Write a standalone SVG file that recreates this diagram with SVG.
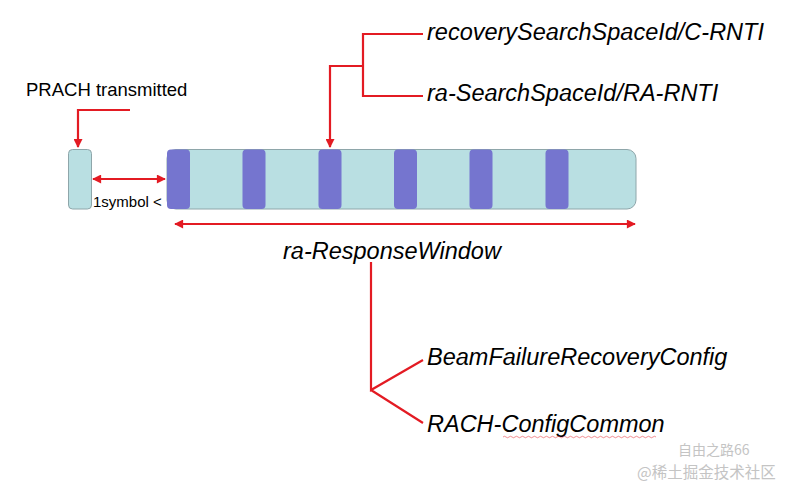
<svg xmlns="http://www.w3.org/2000/svg" width="799" height="495" viewBox="0 0 799 495">
<style>
.t{font-family:"Liberation Sans",Arial,sans-serif;fill:#000}
.i{font-style:italic;font-size:23.5px}
.ln{stroke:#e31b23;stroke-width:2.2;fill:none}
.slot{fill:#b9dfe2;stroke:#8ea6aa;stroke-width:1}
.blk{fill:#7575cf}
.wm{font-family:"Noto Sans CJK SC","Liberation Sans",sans-serif;fill:#c4c4c4}
</style>
<defs>
<marker id="ah" viewBox="0 0 10 10" refX="9" refY="5" markerWidth="10" markerHeight="9" markerUnits="userSpaceOnUse" orient="auto-start-reverse">
<path d="M0,0 L10,5 L0,10 z" fill="#e31b23"/>
</marker>
</defs>
<rect width="799" height="495" fill="#fff"/>
<g id="prach">
<rect class="slot" x="68.5" y="149.5" width="23" height="59.5" rx="4"/>
</g>
<g id="window">
<rect class="slot" x="167" y="149.5" width="469" height="59.5" rx="9"/>
<rect class="blk" x="167" y="149.5" width="23" height="59.5" rx="4"/>
<rect class="blk" x="242.5" y="149.5" width="23" height="59.5" rx="4"/>
<rect class="blk" x="318.5" y="149.5" width="23" height="59.5" rx="4"/>
<rect class="blk" x="394" y="149.5" width="23" height="59.5" rx="4"/>
<rect class="blk" x="469.5" y="149.5" width="23" height="59.5" rx="4"/>
<rect class="blk" x="545.5" y="149.5" width="23" height="59.5" rx="4"/>
</g>
<g id="labels">
<text class="t" x="26" y="96" font-size="18.5">PRACH transmitted</text>
<text class="t" x="93" y="207" font-size="15">1symbol &lt;</text>
<text class="t i" x="427" y="40">recoverySearchSpaceId/C-RNTI</text>
<text class="t i" x="427" y="101">ra-SearchSpaceId/RA-RNTI</text>
<text class="t i" x="283" y="259">ra-ResponseWindow</text>
<text class="t i" x="427" y="365">BeamFailureRecoveryConfig</text>
<text class="t i" x="427" y="432">RACH-ConfigCommon</text>
</g>
<g id="connectors">
<path class="ln" d="M130,110 H78 V147" marker-end="url(#ah)"/>
<path class="ln" d="M93,179 H165" marker-start="url(#ah)" marker-end="url(#ah)"/>
<path class="ln" d="M175,224 H635" marker-start="url(#ah)" marker-end="url(#ah)"/>
<path class="ln" d="M423,34 H363 V96 H423 M363,66 H330 V147" marker-end="url(#ah)"/>
<path class="ln" d="M371,262 V390 L423,360 M371,390 L423,423"/>
<path d="M503,437 q1.5,-1.5 3,0 t3,0 t3,0 t3,0 t3,0 t3,0 t3,0 t3,0 t3,0 t3,0 t3,0 t3,0 t3,0 t3,0 t3,0 t3,0 t3,0 t3,0 t3,0 t3,0 t3,0 t3,0 t3,0 t3,0 t3,0 t3,0 t3,0 t3,0 t3,0 t3,0 t3,0 t3,0 t3,0 t3,0 t3,0 t3,0 t3,0 t3,0 t3,0 t3,0 t3,0 t3,0 t3,0 t3,0 t3,0 t3,0 t3,0 t3,0 t3,0 t3,0 t3,0" stroke="#e31b23" stroke-width="0.7" fill="none" opacity="0.7"/>
</g>
<g id="watermark">
<text class="wm" x="678" y="455" font-size="14">自由之路66</text>
<text class="wm" x="637" y="478" font-size="15.5">@稀土掘金技术社区</text>
</g>
</svg>
